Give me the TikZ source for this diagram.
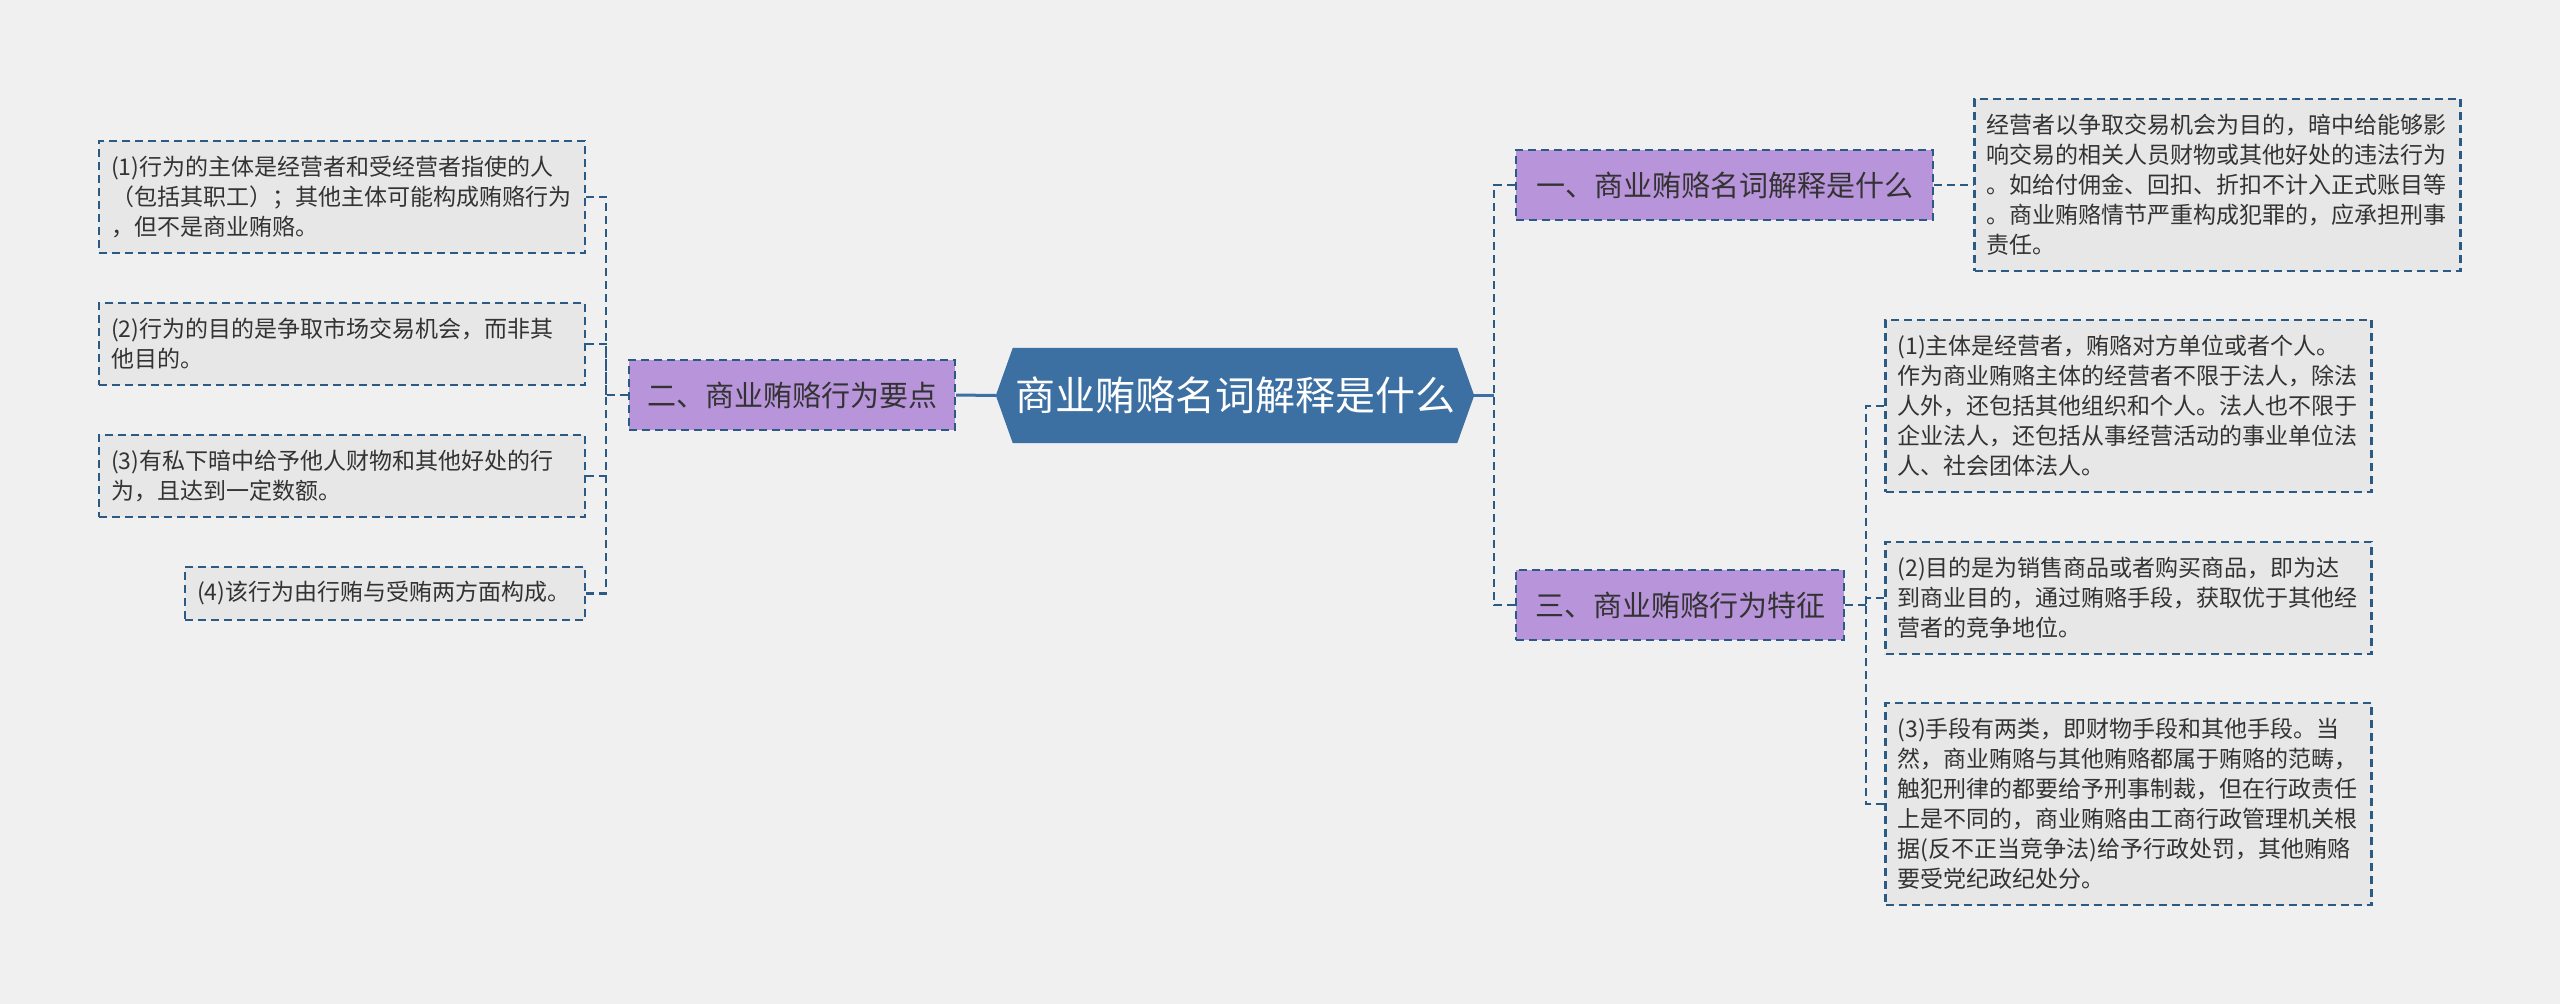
\documentclass[tikz,border=0pt]{standalone}
\usepackage{fontspec}
\setmainfont{Noto Sans CJK SC}
\usetikzlibrary{backgrounds}
\definecolor{bgc}{HTML}{F0F0F0}
\definecolor{linec}{HTML}{2B5A84}
\definecolor{boxc}{HTML}{E7E7E7}
\definecolor{purp}{HTML}{B894DB}
\definecolor{ctr}{HTML}{3C6FA2}
\definecolor{txt}{HTML}{333333}
\begin{document}
\begin{tikzpicture}[x=1pt,y=-1pt,
 detail/.style={draw=linec, line width=2.2pt, dash pattern=on 8pt off 5pt, fill=boxc, rectangle, inner xsep=12pt, inner ysep=0pt, align=left, text width=462pt, font=\fontsize{23}{30}\selectfont, text=txt},
 branch/.style={draw=linec, line width=2.2pt, dash pattern=on 8pt off 5pt, fill=purp, rectangle, inner sep=0pt, font=\fontsize{29}{34}\selectfont, text=txt, minimum height=70pt},
 link/.style={draw=linec, line width=2.2pt, dash pattern=on 8pt off 5pt},
 solidlink/.style={draw=ctr, line width=3pt}
]
\useasboundingbox (0,0) rectangle (2560,1004);

% center
\node[inner sep=0pt, minimum width=478pt, minimum height=95pt, text=white, font=\fontsize{40}{46}\selectfont] (c) at (1235,395.5) {商业贿赂名词解释是什么};

\begin{pgfonlayer}{background}
\fill[bgc] (0,0) rectangle (2560,1004);
\fill[ctr] (c.west) -- ([xshift=17pt]c.north west) -- ([xshift=-17pt]c.north east) -- (c.east) -- ([xshift=-17pt]c.south east) -- ([xshift=17pt]c.south west) -- cycle;
\end{pgfonlayer}

% branches
\node[branch, minimum width=417pt] (b1) at (1724.5,185) {一、商业贿赂名词解释是什么};
\node[branch, minimum width=326pt] (b2) at (792,395) {二、商业贿赂行为要点};
\node[branch, minimum width=328pt] (b3) at (1680,605) {三、商业贿赂行为特征};

% right details
\node[detail, minimum height=172pt] (r1) at (2217.5,185) {经营者以争取交易机会为目的，暗中给能够影\\响交易的相关人员财物或其他好处的违法行为\\。如给付佣金、回扣、折扣不计入正式账目等\\。商业贿赂情节严重构成犯罪的，应承担刑事\\责任。};
\node[detail, minimum height=172pt] (r2) at (2128.5,406) {(1)主体是经营者，贿赂对方单位或者个人。\\作为商业贿赂主体的经营者不限于法人，除法\\人外，还包括其他组织和个人。法人也不限于\\企业法人，还包括从事经营活动的事业单位法\\人、社会团体法人。};
\node[detail, minimum height=112pt] (r3) at (2128.5,598) {(2)目的是为销售商品或者购买商品，即为达\\到商业目的，通过贿赂手段，获取优于其他经\\营者的竞争地位。};
\node[detail, minimum height=202pt] (r4) at (2128.5,804) {(3)手段有两类，即财物手段和其他手段。当\\然，商业贿赂与其他贿赂都属于贿赂的范畴，\\触犯刑律的都要给予刑事制裁，但在行政责任\\上是不同的，商业贿赂由工商行政管理机关根\\据(反不正当竞争法)给予行政处罚，其他贿赂\\要受党纪政纪处分。};

% left details
\node[detail, minimum height=112pt] (l1) at (342,197) {(1)行为的主体是经营者和受经营者指使的人\\（包括其职工）；其他主体可能构成贿赂行为\\，但不是商业贿赂。};
\node[detail, minimum height=82pt] (l2) at (342,344) {(2)行为的目的是争取市场交易机会，而非其\\他目的。};
\node[detail, minimum height=82pt] (l3) at (342,476) {(3)有私下暗中给予他人财物和其他好处的行\\为，且达到一定数额。};
\node[detail, minimum height=53pt, text width=376pt] (l4) at (385,593.5) {(4)该行为由行贿与受贿两方面构成。};

% junctions
\coordinate (tR) at (1494,395.5);
\coordinate (sR) at (1866,605);
\coordinate (sL) at (606,395);

% connectors
\draw[solidlink] (c.west) -- (b2.east);
\draw[solidlink] (c.east) -- (tR);
\draw[link] (b1.west) -| (tR);
\draw[link] (b3.west) -| (tR);
\draw[link] (b1.east) -- (r1.west);
\draw[link] (b3.east) -- (sR);
\draw[link] (r2.west) -| (sR);
\draw[link] (r3.west) -| (sR);
\draw[link] (r4.west) -| (sR);
\draw[link] (b2.west) -- (sL);
\draw[link] (l1.east) -| (sL);
\draw[link] (l2.east) -| (sL);
\draw[link] (l3.east) -| (sL);
\draw[link] (l4.east) -| (sL);
\end{tikzpicture}
\end{document}
